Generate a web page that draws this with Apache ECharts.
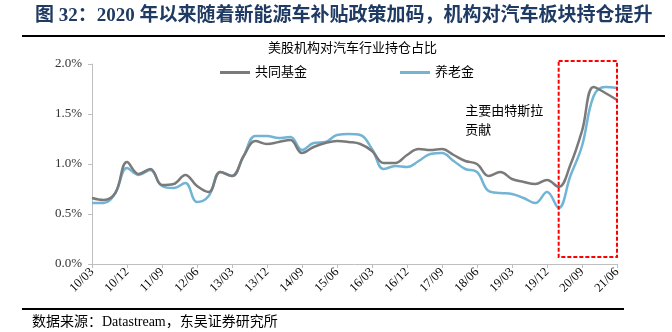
<!DOCTYPE html>
<html>
<head>
<meta charset="utf-8">
<script src="https://cdn.jsdelivr.net/npm/echarts@6/dist/echarts.min.js"></script>
<style>
html,body{margin:0;padding:0;background:#fff;}
#main{width:672px;height:332px;}
</style>
</head>
<body>
<div id="main"></div>
<script>
// ---- data ----
var categories = ['10/03','10/06','10/09','10/12','11/03','11/06','11/09','11/12','12/03','12/06','12/09','12/12',
  '13/03','13/06','13/09','13/12','14/03','14/06','14/09','14/12','15/03','15/06','15/09','15/12',
  '16/03','16/06','16/09','16/12','17/03','17/06','17/09','17/12','18/03','18/06','18/09','18/12',
  '19/03','19/06','19/09','19/12','20/03','20/06','20/09','20/12','21/03','21/06'];
var mutualFund = [0.66,0.64,0.71,1.02,0.90,0.95,0.79,0.80,0.89,0.78,0.72,0.92,
  0.88,1.08,1.23,1.20,1.22,1.24,1.11,1.17,1.21,1.23,1.22,1.20,
  1.13,1.01,1.01,1.09,1.15,1.14,1.15,1.09,1.03,1.00,0.88,0.92,
  0.85,0.82,0.80,0.84,0.77,0.99,1.33,1.77,1.71,1.64];
var pension = [0.61,0.61,0.71,0.96,0.89,0.94,0.78,0.76,0.81,0.62,0.68,0.92,
  0.88,1.08,1.28,1.28,1.26,1.27,1.14,1.21,1.22,1.29,1.30,1.29,
  1.15,0.95,0.98,0.97,1.03,1.10,1.11,1.03,0.95,0.92,0.73,0.71,
  0.70,0.66,0.61,0.72,0.56,0.88,1.18,1.68,1.77,1.76];
var seriesNames = ['共同基金','养老金'];
var yTicks = [0, 0.5, 1.0, 1.5, 2.0];
var mainTitle = '图 32：2020 年以来随着新能源车补贴政策加码，机构对汽车板块持仓提升';
var chartTitle = '美股机构对汽车行业持仓占比';
var sourceText = '数据来源：Datastream，东吴证券研究所';
var noteText = '主要由特斯拉\n贡献';
// annotation anchors in data units (category index, percent)
var noteAnchor = [31.6, 1.62];
var boxCorners = [[39.75, 2.03], [45.1, 0.07]];

var FONT = '"Liberation Serif","Noto Sans CJK SC",serif';
var chart = echarts.init(document.getElementById('main'), null, {renderer:'canvas'});
var option = {
  animation: false,
  backgroundColor: '#fff',
  title: [
    {text: mainTitle, left: 30, top: 2,
     textStyle: {fontFamily: FONT, fontSize: 19, fontWeight: 'bold', color: '#1F3A63'}},
    {text: chartTitle, left: 263, top: 37,
     textStyle: {fontFamily: FONT, fontSize: 13, fontWeight: 'normal', color: '#000'}}
  ],
  legend: {
    data: seriesNames, left: 215, top: 61, itemWidth: 30, itemHeight: 3, itemGap: 93,
    icon: 'rect',
    textStyle: {fontFamily: FONT, fontSize: 13, color: '#000'}
  },
  grid: {left: 92, right: 55, top: 64, bottom: 68, containLabel: false},
  xAxis: {
    type: 'category', data: categories, boundaryGap: false,
    axisLine: {lineStyle: {color: '#BFBFBF', width: 1}},
    axisTick: {interval: 2, length: 4, lineStyle: {color: '#BFBFBF'}},
    axisLabel: {interval: 2, rotate: 45, margin: 6, fontFamily: FONT, fontSize: 12.5, color: '#000'}
  },
  yAxis: {
    type: 'value', min: yTicks[0], max: yTicks[yTicks.length-1], interval: 0.5,
    axisLine: {show: true, lineStyle: {color: '#BFBFBF', width: 1}},
    axisTick: {show: true, length: 4, lineStyle: {color: '#BFBFBF'}},
    splitLine: {show: false},
    axisLabel: {margin: 10, fontFamily: FONT, fontSize: 13, color: '#333',
      formatter: function(v){ return v.toFixed(1) + '%'; }}
  },
  series: [
    {name: seriesNames[0], type: 'line', data: mutualFund, smooth: 0.4, symbol: 'none',
     lineStyle: {color: '#7A7A7A', width: 2.5}, itemStyle: {color: '#7A7A7A'}, z: 3},
    {name: seriesNames[1], type: 'line', data: pension, smooth: 0.4, symbol: 'none',
     lineStyle: {color: '#72B4D4', width: 2.5}, itemStyle: {color: '#72B4D4'}, z: 2}
  ]
};
chart.setOption(option);

var p = chart.convertToPixel({gridIndex: 0}, noteAnchor);
var b1 = chart.convertToPixel({gridIndex: 0}, boxCorners[0]);
var b2 = chart.convertToPixel({gridIndex: 0}, boxCorners[1]);
chart.setOption({
  graphic: [
    {type: 'line', shape: {x1: 22, y1: 36, x2: 665, y2: 36}, style: {stroke: '#000', lineWidth: 2}},
    {type: 'line', shape: {x1: 22, y1: 309, x2: 624, y2: 309}, style: {stroke: '#000', lineWidth: 2}},
    {type: 'text', left: 32, top: 315, style: {text: sourceText, fontFamily: FONT, fontSize: 14, fill: '#000'}},
    {type: 'text', x: p[0], y: p[1], style: {text: noteText, fontFamily: FONT, fontSize: 13, lineHeight: 19, fill: '#000'}},
    {type: 'rect', shape: {x: b1[0], y: b1[1], width: b2[0]-b1[0], height: b2[1]-b1[1]},
     style: {fill: 'none', stroke: '#FF0000', lineWidth: 2, lineDash: [4, 2]}, z: 10}
  ]
});
</script>
</body>
</html>
